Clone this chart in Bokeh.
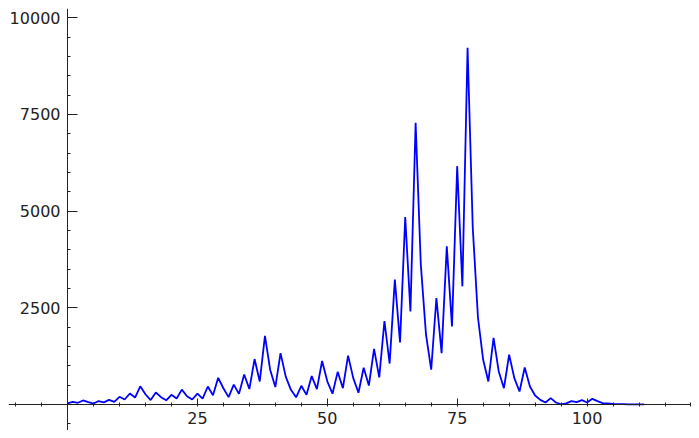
from bokeh.plotting import figure
from bokeh.models import Range1d, SingleIntervalTicker, CustomJSTickFormatter
from bokeh.embed import file_html
from bokeh.resources import INLINE

x_vals = list(range(0, 112))
y_vals = [30, 70, 45, 105, 60, 25, 90, 55, 120, 70,
          200, 130, 285, 180, 470, 265, 115, 310, 190, 110,
          250, 155, 385, 215, 130, 280, 150, 466, 240, 690,
          420, 190, 515, 275, 775, 400, 1175, 596, 1775, 900,
          450, 1330, 720, 380, 185, 484, 250, 735, 400, 1125,
          600, 280, 845, 423, 1265, 682, 305, 950, 490, 1437,
          700, 2160, 1060, 3229, 1606, 4850, 2409, 7286, 3618, 1805,
          900, 2753, 1329, 4092, 2020, 6164, 3056, 9228, 4566, 2250,
          1157, 596, 1726, 855, 423, 1287, 682, 337, 958, 466,
          233, 121, 52, 164, 52, 5, 30, 86, 60, 112,
          52, 147, 86, 35, 26, 15, 10, 8, 6, 5,
          4, 3]

p = figure(width=691, height=430, output_backend="svg", toolbar_location=None,
           x_range=Range1d(-11.36, 120.1), y_range=Range1d(-672, 10241),
           min_border=0, min_border_left=8, min_border_top=8)
p.outline_line_color = None
p.grid.visible = False
p.background_fill_color = "white"

p.line(x_vals, y_vals, line_color="#0000ff", line_width=1.8)

fmt = CustomJSTickFormatter(code="return tick == 0 ? '' : tick.toString();")

xa = p.xaxis[0]
xa.ticker = SingleIntervalTicker(interval=25, num_minor_ticks=5)
xa.formatter = fmt
xa.fixed_location = 0
xa.major_tick_in = 6
xa.major_tick_out = 0
xa.minor_tick_in = 2
xa.minor_tick_out = 2
xa.major_label_standoff = 5
xa.major_label_text_font = "DejaVu Sans"
xa.major_label_text_font_size = "16px"
xa.major_label_text_color = "#222222"
xa.axis_line_color = "#222222"
xa.major_tick_line_color = "#222222"
xa.minor_tick_line_color = "#222222"

ya = p.yaxis[0]
ya.ticker = SingleIntervalTicker(interval=2500, num_minor_ticks=5)
ya.formatter = fmt
ya.fixed_location = 0
ya.major_tick_in = 10
ya.major_tick_out = 0
ya.minor_tick_in = 3
ya.minor_tick_out = 0
ya.major_label_standoff = 7
ya.major_label_text_font = "DejaVu Sans"
ya.major_label_text_font_size = "16px"
ya.major_label_text_color = "#222222"
ya.axis_line_color = "#222222"
ya.major_tick_line_color = "#222222"
ya.minor_tick_line_color = "#222222"

open("out.html", "w").write(file_html(p, INLINE))
